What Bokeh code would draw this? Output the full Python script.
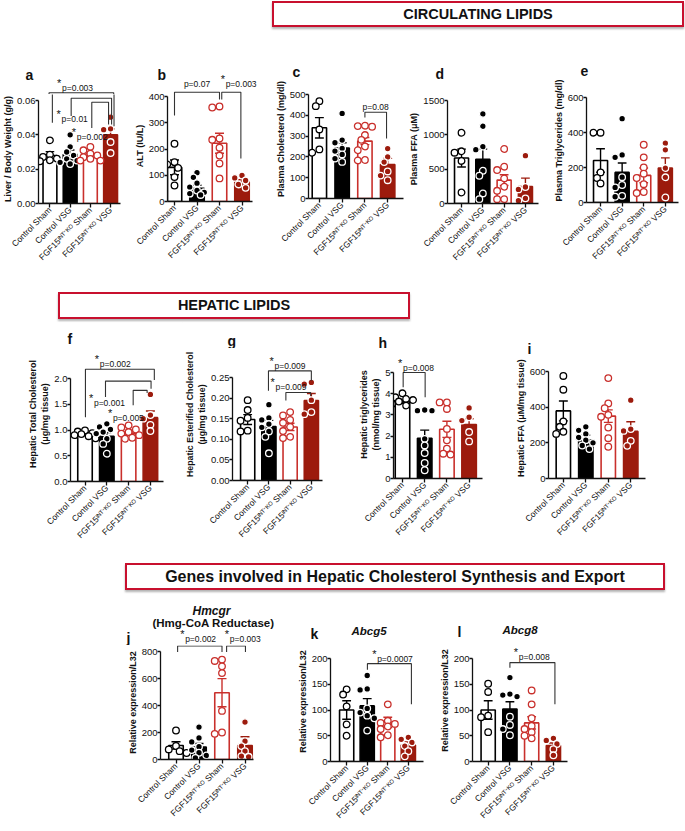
import math
from bokeh.plotting import figure
from bokeh.models import Range1d, FixedTicker, NumeralTickFormatter, Label, Div, Spacer
from bokeh.layouts import row, column
from bokeh.embed import file_html
from bokeh.resources import INLINE

FONT = "Liberation Sans"
INK = "#111111"
RED = "#c9302c"
DRED = "#9c1b0d"

groups = ["Control Sham", "Control VSG", "FGF15ᴵᴺᵀ⁻ᴷᴼ Sham", "FGF15ᴵᴺᵀ⁻ᴷᴼ VSG"]

# ---------------- data ----------------
a_mean = [0.028, 0.0286, 0.028, 0.040]
a_sem = [0.0022, 0.0026, 0.001, 0.0035]
a_pts = [[0.0368, 0.0284, 0.0271, 0.0261, 0.0252, 0.0246],
         [0.040, 0.033, 0.030, 0.028, 0.026, 0.025, 0.024, 0.023],
         [0.033, 0.031, 0.029, 0.028, 0.027, 0.026, 0.025, 0.025],
         [0.0503, 0.0435, 0.043, 0.0358, 0.0294]]
a_ticks = [0, 0.02, 0.04, 0.06]

b_mean = [130, 50, 222, 74]
b_sem = [28, 12, 38, 9]
b_pts = [[220, 150, 141, 128, 93, 61],
         [110, 92, 70, 55, 42, 35, 30, 25],
         [362, 358, 240, 235, 205, 175, 145, 88],
         [99, 90, 80, 65, 52]]
b_ticks = [0, 100, 200, 300, 400]

c_mean = [340, 243, 276, 163]
c_sem = [49, 25, 17, 30]
c_pts = [[468, 444, 332, 236, 220],
         [409, 281, 268, 241, 228, 212, 192, 176],
         [350, 348, 345, 305, 282, 250, 232, 185, 183],
         [240, 200, 175, 130, 110, 88]]
c_ticks = [0, 100, 200, 300, 400, 500]

d_mean = [662, 643, 341, 248]
d_sem = [130, 150, 78, 122]
d_pts = [[1030, 760, 740, 620, 160],
         [1305, 1125, 828, 784, 477, 404, 146, 63],
         [794, 536, 487, 365, 244, 185, 63, 63],
         [697, 240, 205, 75, 40]]
d_ticks = [0, 500, 1000, 1500]

e_mean = [240, 172, 155, 197]
e_sem = [67, 54, 42, 58]
e_pts = [[399, 399, 172, 140, 109],
         [479, 272, 258, 145, 100, 86, 38, 33],
         [330, 258, 200, 165, 140, 105, 60, 54],
         [339, 301, 197, 144, 29]]
e_ticks = [0, 200, 400, 600]

f_mean = [0.92, 0.88, 0.93, 1.24]
f_sem = [0.03, 0.07, 0.03, 0.13]
f_pts = [[0.99, 0.97, 0.94, 0.92, 0.90, 0.88, 0.84],
         [1.12, 1.06, 1.01, 0.96, 0.93, 0.83, 0.73, 0.54],
         [1.09, 1.05, 1.01, 0.96, 0.93, 0.90, 0.85, 0.83],
         [1.69, 1.29, 1.22, 1.10, 0.98]]
f_ticks = [0, 0.5, 1.0, 1.5, 2.0]

g_mean = [0.148, 0.131, 0.130, 0.194]
g_sem = [0.012, 0.015, 0.009, 0.017]
g_pts = [[0.195, 0.171, 0.152, 0.145, 0.121, 0.119],
         [0.184, 0.152, 0.147, 0.137, 0.129, 0.119, 0.106, 0.066],
         [0.166, 0.158, 0.147, 0.140, 0.130, 0.120, 0.106, 0.103],
         [0.238, 0.234, 0.195, 0.166, 0.161]]
g_ticks = [0, 0.05, 0.10, 0.15, 0.20, 0.25]

h_mean = [3.62, 1.90, 2.32, 2.55]
h_sem = [0.07, 0.38, 0.38, 0.27]
h_pts = [[4.02, 3.83, 3.75, 3.70, 3.63, 3.52, 3.44],
         [3.23, 3.20, 3.20, 1.87, 1.56, 1.20, 0.73, 0.39],
         [3.59, 3.59, 3.28, 2.34, 1.80, 1.41, 1.17, 1.13],
         [3.33, 2.89, 2.73, 2.19, 1.75]]
h_ticks = [0, 1, 2, 3, 4, 5]

i_mean = [379, 215, 350, 264]
i_sem = [56, 28, 35, 54]
i_pts = [[575, 498, 320, 290, 262, 250],
         [290, 270, 250, 230, 215, 200, 185, 165],
         [563, 421, 394, 357, 346, 286, 226, 178],
         [439, 277, 267, 211, 183]]
i_ticks = [0, 200, 400, 600]

j_mean = [104, 92, 495, 104]
j_sem = [27, 27, 104, 64]
j_pts = [[215, 100, 75, 62, 48],
         [240, 160, 130, 95, 70, 50, 30, 12],
         [740, 730, 690, 640, 360, 200, 190],
         [277, 136, 99, 62, 25, 20]]
j_ticks = [0, 200, 400, 600, 800]

k_mean = [100, 108, 76, 32]
k_sem = [18, 14, 10, 6]
k_pts = [[140, 130, 107, 72, 50],
         [167, 141, 139, 103, 95, 89, 84, 60],
         [111, 79, 75, 73, 68, 63, 51, 47],
         [47, 43, 37, 30, 20, 10]]
k_ticks = [0, 50, 100, 150, 200]

l_mean = [100, 102, 75, 31]
l_sem = [18, 14, 12, 5]
l_pts = [[151, 135, 89, 86, 57],
         [163, 131, 129, 126, 87, 71, 63, 51],
         [138, 111, 84, 69, 63, 57, 50, 45],
         [45, 41, 34, 24, 12]]
l_ticks = [0, 50, 100, 150, 200]

# brackets: (x_left, x_right, level, left_leg_end, right_leg_end, text, text_x, text_y, star)
a_br = [(1.12, 4.17, 0.0645, 0.047, 0.045, "p=0.003", 1.50, 0.0675, True),
        (2.05, 4.05, 0.0613, 0.051, 0.046, "p=0.01", 1.33, 0.0495, True),
        (3.07, 3.90, 0.0590, 0.044, 0.046, "p=0.002", 2.08, 0.0390, True)]
b_br = [(1.0, 3.0, 416, 328, 389, "p=0.07", 2.0, 446, False),
        (3.1, 3.95, 416, 389, 164, "p=0.003", 3.05, 446, True)]
c_br = [(3.0, 3.95, 415, 389, 288, "p=0.08", 3.47, 442, False)]
f_br = [(1.02, 4.18, 2.18, 1.25, 1.97, "p=0.002", 1.45, 2.291, True),
        (1.94, 4.03, 1.95, 1.64, 1.80, "p=0.001", 1.18, 1.53, True),
        (3.21, 3.85, 1.77, 1.48, 1.72, "p=0.005", 2.05, 1.24, True)]
g_br = [(1.98, 4.0, 0.266, 0.218, 0.242, "p=0.009", 2.03, 0.278, True),
        (2.80, 3.97, 0.2137, 0.194, 0.205, "p=0.009", 2.08, 0.2276, True)]
h_br = [(1.03, 2.02, 5.0, 4.3, 3.83, "p=0.008", 0.80, 5.22, True)]
j_br = [(1.07, 3.0, 841, 797, 797, "p=0.002", 1.18, 890, True),
        (3.2, 4.02, 841, 797, 797, "p=0.003", 3.12, 890, True)]
k_br = [(2.01, 4.15, 190, 178, 111, "p=0.0007", 2.24, 200, True)]
l_br = [(2.0, 4.07, 192, 182, 111, "p=0.008", 2.18, 203, True)]

bar_fill = ["white", "black", "white", DRED]
bar_line = ["black", "black", RED, DRED]
pt_fill = ["white", "black", "white", DRED]
pt_line = ["black", "white", RED, "white"]


def swarm(vals, pxu, sp, d=6.6):
    placed, offs = [], []
    cands = [0, -0.55, 0.55, -1.1, 1.1, -1.6, 1.6]
    for v in vals:
        best, score = 0, -1
        for c in cands:
            dx = c * d
            md = min((math.hypot(dx - px, (v - pv) * pxu) for px, pv in placed), default=99)
            if md >= d * 0.9:
                best = dx
                break
            if md > score:
                score, best = md, dx
        placed.append((best, v))
        offs.append(best / sp)
    return offs


def no_align(fig):
    try:
        fig.frame_align = False
    except Exception:
        pass


def draw_bracket_lines(p, brackets):
    for (xa, xb, lev, la, lb, txt, tx, ty, star) in brackets:
        p.multi_line(xs=[[xa, xa, xb, xb]], ys=[[la, lev, lev, lb]],
                     line_color="#333333", line_width=1.1)


def draw_bracket_text(p, br):
    (xa, xb, lev, la, lb, txt, tx, ty, star) = br
    if star:
        p.add_layout(Label(x=tx, y=ty, text="*", text_font=FONT, text_font_size="11px",
                           text_baseline="alphabetic", y_offset=5, text_color=INK))
        p.add_layout(Label(x=tx, y=ty, x_offset=5, text=txt, text_font=FONT,
                           text_font_size="8.5px", text_baseline="alphabetic",
                           text_color=INK))
    else:
        p.add_layout(Label(x=tx, y=ty, text=txt, text_font=FONT, text_font_size="8.5px",
                           text_baseline="alphabetic", text_align="center",
                           text_color=INK))


def panel(mean, sem, pts, ticks, fmt, ylab, letter, G, brackets=(), titles=()):
    top = ticks[-1]
    yt, yb = G["yt"], G["yb"]
    hax = yb - yt
    pxu = hax / top
    sp = G["sp"]
    w, h, bl, fw = G["w"], G["h"], G["bl"], G["fw"]
    xr = G.get("xr", 0)
    x0 = 1 - G["off"] / sp
    x1 = x0 + fw / sp

    # vertical extents (px from figure top) of the p-value texts, with safety margins
    spans = []
    for br in brackets:
        base = yt - (br[7] - top) * pxu
        spans.append((base - (17 if br[8] else 10), base + 6))
    lbase = yt - G["ldy"]
    ldesc = 8
    lo = lbase + ldesc
    hi = min(yt - 6, yb - G["lab"] - 3)

    def ok(c):
        return all(not (t < c < b) for t, b in spans)

    cut = None
    for c in range(int(hi), int(math.ceil(lo)) - 1, -1):
        if ok(c):
            cut = c
            break
    if cut is None:
        c = int(min(hi, lo))
        while not ok(c):
            c -= 1
        cut = c
        lbase = cut - ldesc
    ymain = top + (yt - cut) / pxu

    # upper strip: letter, gene titles and texts lying above the plot frame
    q = figure(width=w, height=cut, x_range=Range1d(x0 - bl / sp, x0 + (w - bl) / sp),
               y_range=Range1d(ymain, ymain + cut / pxu), output_backend="svg",
               toolbar_location=None, x_axis_type=None, y_axis_type=None, title=None,
               min_border_left=0, min_border_right=0, min_border_top=0, min_border_bottom=0,
               outline_line_color=None, background_fill_color="white",
               border_fill_color="white")
    no_align(q)
    q.xgrid.visible = False
    q.ygrid.visible = False
    draw_bracket_lines(q, brackets)
    q.add_layout(Label(x=x0 + G["ldx"] / sp, y=top + (yt - lbase) / pxu, text=letter,
                       text_font=FONT, text_font_size="14px", text_font_style="bold",
                       text_baseline="alphabetic", text_color=INK))
    xc = (x0 + x1) / 2
    for (txt, dx, dy, style, size) in titles:
        q.add_layout(Label(x=xc + dx / sp, y=top + dy / pxu, text=txt, text_font=FONT,
                           text_font_size=size, text_font_style=style,
                           text_align="center", text_baseline="alphabetic",
                           text_color=INK))

    p = figure(width=w, height=h - cut, x_range=Range1d(x0, x1 + xr / sp),
               y_range=Range1d(0, ymain),
               output_backend="svg", toolbar_location=None, title=None,
               min_border_left=bl, min_border_right=w - bl - fw - xr,
               min_border_top=0, min_border_bottom=h - yb,
               outline_line_color=None, background_fill_color="white",
               border_fill_color="white")
    no_align(p)
    p.xgrid.visible = False
    p.ygrid.visible = False
    xs = [1, 2, 3, 4]
    bw = 14.5 / sp
    p.vbar(x=xs, top=mean, bottom=0, width=bw, fill_color=bar_fill,
           line_color=bar_line, line_width=1.6)
    cw = 4.5 / sp
    for k in range(4):
        lo_, hi_ = mean[k] - sem[k], mean[k] + sem[k]
        p.segment(x0=[k + 1, k + 1 - cw, k + 1 - cw], y0=[lo_, hi_, lo_],
                  x1=[k + 1, k + 1 + cw, k + 1 + cw], y1=[hi_, hi_, lo_],
                  line_color=bar_line[k], line_width=1.4)
    for k in range(4):
        offs = swarm(pts[k], pxu, sp)
        p.scatter(x=[k + 1 + o for o in offs], y=pts[k], size=6.6, marker="circle",
                  fill_color=pt_fill[k], line_color=pt_line[k], line_width=1.3)
    draw_bracket_lines(p, brackets)
    for br, (t, b) in zip(brackets, spans):
        draw_bracket_text(q if b <= cut else p, br)

    xa = p.xaxis[0]
    ya = p.yaxis[0]
    for ax in (xa, ya):
        ax.axis_line_width = 1.3
        ax.axis_line_color = INK
        ax.major_tick_line_color = INK
        ax.major_tick_line_width = 1.3
        ax.minor_tick_line_color = None
        ax.major_tick_in = 0
        ax.major_label_text_font = FONT
        ax.major_label_text_color = INK
        ax.axis_label_text_font = FONT
    xa.ticker = FixedTicker(ticks=xs)
    xa.major_label_overrides = {i + 1: g for i, g in enumerate(groups)}
    xa.major_label_orientation = math.pi / 4
    xa.major_label_text_font_size = "8.5px"
    xa.major_label_standoff = 1
    xa.major_tick_out = 4
    xa.bounds = (x0, x1)
    ya.ticker = FixedTicker(ticks=ticks)
    ya.formatter = NumeralTickFormatter(format=fmt)
    ya.bounds = (0, top)
    ya.major_tick_out = 3
    ya.major_label_standoff = 0
    ya.major_label_text_font_size = "9.5px"
    ya.axis_label = ylab
    ya.axis_label_text_font_size = G.get("labfs", "9px")
    ya.axis_label_text_font_style = "bold"
    ya.axis_label_text_color = INK
    ya.axis_label_standoff = 1
    return column(q, p)


# ---------------- geometry ----------------
H1, H2, H3 = 254, 238, 234
pa = panel(a_mean, a_sem, a_pts, a_ticks, "0.00", "Liver / Body Weight (g/g)", "a",
           dict(w=128, h=H1, bl=34, fw=86, yt=66, yb=169, off=12, sp=21.2, ldx=-9, ldy=26, lab=106),
           a_br)
pb = panel(b_mean, b_sem, b_pts, b_ticks, "0", "ALT (IU/L)", "b",
           dict(w=144, h=H1, bl=39, fw=85, xr=8, yt=62, yb=167, off=7, sp=22.5, ldx=-10, ldy=22, lab=45),
           b_br)
pc = panel(c_mean, c_sem, c_pts, c_ticks, "0", "Plasma Cholesterol (mg/dl)", "c",
           dict(w=134, h=H1, bl=35, fw=96, yt=60, yb=164, off=11, sp=23, ldx=-15, ldy=21, lab=116),
           c_br)
pd_ = panel(d_mean, d_sem, d_pts, d_ticks, "0", "Plasma FFA (μM)", "d",
            dict(w=144, h=H1, bl=38, fw=94, yt=66, yb=169, off=14.5, sp=22, ldx=-9, ldy=27, lab=70))
pe = panel(e_mean, e_sem, e_pts, e_ticks, "0", "Plasma Triglycerides (mg/dl)", "e",
           dict(w=135, h=H1, bl=33, fw=95, yt=63, yb=168, off=14.5, sp=22.3, ldx=-3, ldy=24, lab=121))

pf = panel(f_mean, f_sem, f_pts, f_ticks, "0.0", "Hepatic Total Cholesterol\n(μg/mg tissue)", "f",
           dict(w=182, h=H2, bl=70, fw=93, yt=56, yb=159, off=14.5, sp=21.8, ldx=-3, ldy=28, lab=109),
           f_br)
pg = panel(g_mean, g_sem, g_pts, g_ticks, "0.00", "Hepatic Esterified Cholesterol\n(μg/mg tissue)", "g",
           dict(w=173, h=H2, bl=48, fw=92, yt=55, yb=158, off=15.5, sp=21.7, ldx=-3, ldy=25, lab=125,
                labfs="8.8px"),
           g_br)
ph = panel(h_mean, h_sem, h_pts, h_ticks, "0", "Hepatic triglycerides\n(nmol/mg tissue)", "h",
           dict(w=157, h=H2, bl=38, fw=89, yt=50, yb=156, off=9, sp=22.2, ldx=-15, ldy=19, lab=88),
           h_br)
pi_ = panel(i_mean, i_sem, i_pts, i_ticks, "0", "Hepatic FFA (μM/mg tissue)", "i",
            dict(w=173, h=H2, bl=35, fw=98, yt=49, yb=156, off=15, sp=22.7, ldx=-20, ldy=23, lab=118))

pj = panel(j_mean, j_sem, j_pts, j_ticks, "0", "Relative expression/L32", "j",
           dict(w=294, h=H3, bl=160, fw=93, yt=55, yb=163, off=15.5, sp=23, ldx=-34, ldy=9, lab=103),
           j_br, [("Hmcgr", 4.5, 41, "bold italic", "12px"),
                  ("(Hmg-CoA Reductase)", 6.5, 29, "bold", "11.5px")])
pk = panel(k_mean, k_sem, k_pts, k_ticks, "0", "Relative expression/L32", "k",
           dict(w=142, h=H3, bl=34, fw=95, yt=62, yb=165, off=16.5, sp=21, ldx=-18, ldy=14, lab=103),
           k_br, [("Abcg5", -7, 28, "bold italic", "11.5px")])
pl = panel(l_mean, l_sem, l_pts, l_ticks, "0", "Relative expression/L32", "l",
           dict(w=249, h=H3, bl=34, fw=97, yt=62, yb=165, off=16, sp=22.2, ldx=-13, ldy=21, lab=103),
           l_br, [("Abcg8", 1, 29, "bold italic", "11.5px")])


def header(text, left, width, pad_top, box_h, block_h, size):
    html = ('<div style="box-sizing:border-box;width:%dpx;height:%dpx;'
            'border:2px solid #c8102e;box-shadow:0 2px 2px rgba(0,0,0,0.3);'
            'font-family:\'Liberation Sans\',Arial,sans-serif;font-weight:bold;'
            'font-size:%s;line-height:%dpx;text-align:center;color:#111;background:#fff;">%s</div>'
            % (width, box_h, size, box_h - 4, text))
    d = Div(text=html, width=width, height=box_h, margin=(0, 0, 0, 0))
    parts = []
    if pad_top:
        parts.append(Spacer(width=10, height=pad_top))
    parts.append(row(Spacer(width=left, height=box_h), d))
    rest = block_h - pad_top - box_h
    if rest > 0:
        parts.append(Spacer(width=10, height=rest))
    return column(*parts)


layout = column(
    header("CIRCULATING LIPIDS", 272, 412, 1, 26, 34, "14.5px"),
    row(pa, pb, pc, pd_, pe),
    header("HEPATIC LIPIDS", 58, 352, 4, 27, 34, "14.5px"),
    row(pf, pg, ph, pi_),
    header("Genes involved in Hepatic Cholesterol Synthesis and Export", 125, 540, 3, 27, 36, "16px"),
    row(pj, pk, pl),
)

open("out.html", "w").write(file_html(layout, INLINE))
